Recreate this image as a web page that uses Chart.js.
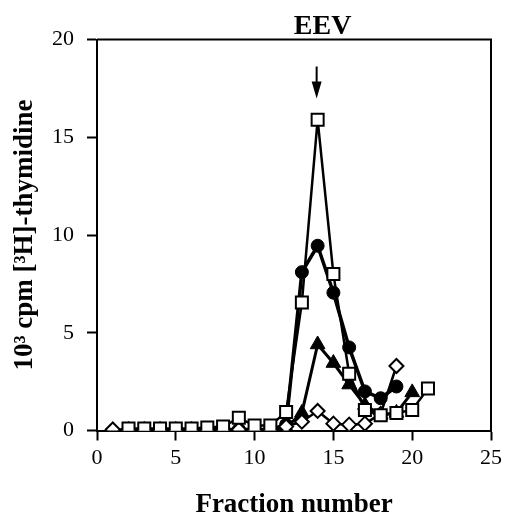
<!DOCTYPE html>
<html>
<head>
<meta charset="utf-8">
<script src="https://cdn.jsdelivr.net/npm/chart.js@4"></script>
<style>
  body { margin: 0; background: #fff; }
  canvas { display: block; }
</style>
</head>
<body>
<canvas id="grafico" width="507" height="517"></canvas>
<script>
// fracciones y valores (10^3 cpm)
const fraccionesCuadrado = [2, 3, 4, 5, 6, 7, 8, 9, 10, 11, 12, 13, 14, 15, 16, 17, 18, 19, 20, 21]
const valoresCuadrado = [0.1, 0.1, 0.1, 0.1, 0.1, 0.15, 0.2, 0.65, 0.25, 0.25, 0.95, 6.55, 15.9, 8.0, 2.9, 1.05, 0.78, 0.9, 1.05, 2.15]

const fraccionesCirculo = [7, 8, 9, 10, 11, 12, 13, 14, 15, 16, 17, 18, 19]
const valoresCirculo = [0.05, 0.05, 0.05, 0.05, 0.05, 0.3, 8.1, 9.45, 7.05, 4.25, 2.0, 1.65, 2.25]

const fraccionesTriangulo = [7, 8, 9, 10, 11, 12, 13, 14, 15, 16, 17, 18, 19, 20]
const valoresTriangulo = [0.05, 0.05, 0.05, 0.05, 0.05, 0.15, 0.9, 4.4, 3.45, 2.35, 1.3, 0.8, 0.9, 1.95]

const fraccionesRombo = [1, 2, 3, 4, 5, 6, 7, 8, 9, 10, 11, 12, 13, 14, 15, 16, 17, 18, 19]
const valoresRombo = [0.05, 0.05, 0.05, 0.05, 0.05, 0.05, 0.05, 0.05, 0.05, 0, 0.05, 0.2, 0.45, 1.0, 0.35, 0.3, 0.35, 0.85, 3.3]

const ticksX = [0, 5, 10, 15, 20, 25]
const ticksY = [0, 5, 10, 15, 20]
const fraccionEEV = 14

const puntos = (xs, ys) => xs.map((x, i) => ({ x: x, y: ys[i] }))

const serif = 'Liberation Serif'

// marco superior/derecho + flecha EEV
const extras = {
    id: 'extras',
    afterDraw(chart) {
        const ctx = chart.ctx
        const area = chart.chartArea
        ctx.save()
        ctx.strokeStyle = '#000'
        ctx.lineWidth = 2
        ctx.beginPath()
        ctx.moveTo(area.left, area.top)
        ctx.lineTo(area.right, area.top)
        ctx.lineTo(area.right, area.bottom)
        ctx.stroke()

        const x = chart.scales.x.getPixelForValue(fraccionEEV)
        ctx.fillStyle = '#000'
        ctx.font = 'bold 28px ' + serif
        ctx.textAlign = 'center'
        ctx.textBaseline = 'alphabetic'
        ctx.fillText('EEV', x + 5, area.top - 6)

        ctx.beginPath()
        ctx.moveTo(x - 1, area.top + 27)
        ctx.lineTo(x - 1, area.top + 45)
        ctx.stroke()
        ctx.beginPath()
        ctx.moveTo(x - 6, area.top + 42)
        ctx.lineTo(x + 4, area.top + 42)
        ctx.lineTo(x - 1, area.top + 59)
        ctx.closePath()
        ctx.fill()
        ctx.restore()
    }
}

new Chart(document.getElementById('grafico').getContext('2d'), {
    type: 'line',
    data: {
        datasets: [{
            data: puntos(fraccionesCuadrado, valoresCuadrado),
            borderColor: '#000',
            borderWidth: 2.5,
            pointStyle: 'rect',
            pointRadius: 8.5,
            pointBorderWidth: 2,
            pointBackgroundColor: '#fff',
            pointBorderColor: '#000'
        }, {
            data: puntos(fraccionesRombo, valoresRombo),
            borderColor: '#000',
            borderWidth: 2.5,
            pointStyle: 'rectRot',
            pointRadius: 7,
            pointBorderWidth: 2,
            pointBackgroundColor: '#fff',
            pointBorderColor: '#000'
        }, {
            data: puntos(fraccionesCirculo, valoresCirculo),
            borderColor: '#000',
            borderWidth: 3.5,
            pointStyle: 'circle',
            pointRadius: 6.5,
            pointBorderWidth: 1,
            pointBackgroundColor: '#000',
            pointBorderColor: '#000'
        }, {
            data: puntos(fraccionesTriangulo, valoresTriangulo),
            borderColor: '#000',
            borderWidth: 3,
            pointStyle: 'triangle',
            pointRadius: 8.5,
            pointBorderWidth: 1,
            pointBackgroundColor: '#000',
            pointBorderColor: '#000'
        }]
    },
    options: {
        responsive: false,
        animation: false,
        layout: { padding: { top: 39.5, right: 14, bottom: 0, left: 0 } },
        plugins: { legend: { display: false }, tooltip: { enabled: false } },
        scales: {
            x: {
                type: 'linear',
                min: 0,
                max: 25,
                afterBuildTicks: (s) => { s.ticks = ticksX.map(v => ({ value: v })) },
                afterFit: (s) => { s.height = 86.5 },
                grid: { drawOnChartArea: false, tickLength: 10, tickColor: '#000', tickWidth: 2 },
                border: { display: true, color: '#000', width: 2 },
                ticks: { color: '#000', padding: 5, maxRotation: 0, font: { family: serif, size: 22 } },
                title: {
                    display: true,
                    text: 'Fraction number',
                    color: '#000',
                    padding: { top: 0, bottom: -4 },
                    font: { family: serif, size: 27, weight: 'bold' }
                }
            },
            y: {
                min: 0,
                max: 20,
                afterBuildTicks: (s) => { s.ticks = ticksY.map(v => ({ value: v })) },
                afterFit: (s) => { s.width = 97 },
                grid: { drawOnChartArea: false, tickLength: 10, tickColor: '#000', tickWidth: 2 },
                border: { display: true, color: '#000', width: 2 },
                ticks: { color: '#000', padding: 13, font: { family: serif, size: 22 } },
                title: {
                    display: true,
                    text: '10³ cpm [³H]-thymidine',
                    color: '#000',
                    padding: { top: 9, bottom: 0 },
                    font: { family: serif, size: 27, weight: 'bold' }
                }
            }
        }
    },
    plugins: [extras]
})
</script>
</body>
</html>
